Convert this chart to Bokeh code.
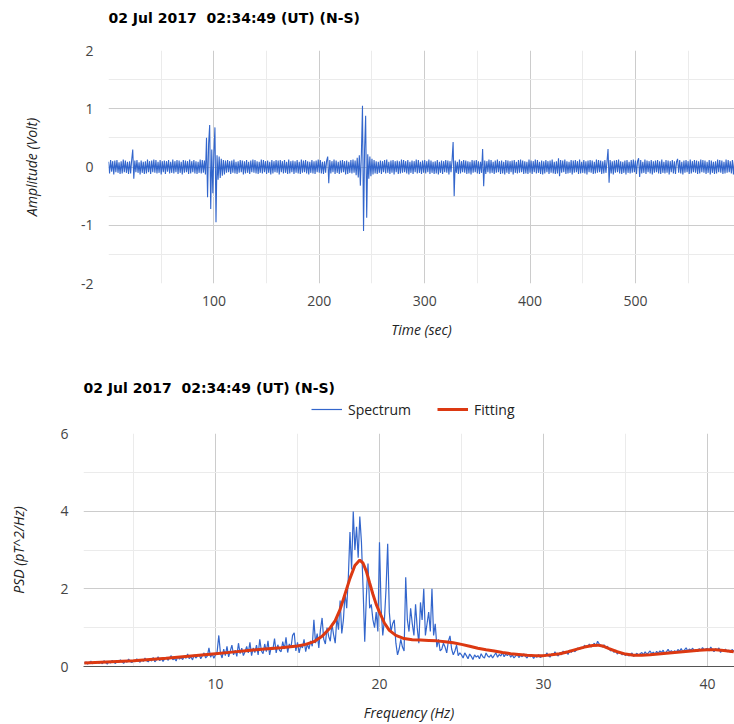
from bokeh.plotting import figure
from bokeh.models import Range1d, FixedTicker, Legend, LegendItem, Title
from bokeh.embed import file_html
from bokeh.resources import INLINE

TITLE = "02 Jul 2017\u00a0\u00a002:34:49 (UT) (N-S)"

# ---------------- data ----------------
# time series sampled every 1 s, amplitude in hundredths of a volt
time_step = 1
amp_cV = [
    9, -11, 12, -8, 10, -13, 11, -9, 12, -10, 8, -12, 10, -11, 13, -9, 11, -10, 9, -12,
    10, -11, 12, 30, -20, 11, -9, 12, -10, 8, -13, 11, -10, 9, -12, 10, -11, 13, -9, 10,
    -12, 11, -9, 13, -10, 12, -11, 9, -10, 12, -13, 10, -9, 11, -12, 10, -8, 12, -11, 9,
    -10, 13, -11, 10, -9, 12, -12, 11, -10, 9, -13, 12, -10, 11, -9, 10, -12, 13, -11, 10,
    -9, 12, -11, 10, -12, 9, -10, 13, -11, 12, -10, 11, -13, 50, -52, 40, 72, -72, 30, -45,
    25, 68, -95, 20, -22, 18, -19, 14, -15, 12, -13, 11, -10, 12, -9, 10, -12, 11, -10, 13,
    -11, 9, -12, 10, -10, 12, -9, 11, -13, 10, -11, 12, -10, 9, -12, 11, -9, 13, -10, 12,
    -11, 10, -12, 9, -10, 13, -11, 12, -9, 10, -12, 11, -10, 9, -13, 12, -11, 10, -9, 12,
    -10, 11, -13, 12, -9, 10, -11, 12, -10, 9, -12, 13, -11, 10, -9, 11, -12, 10, -10, 12,
    -11, 9, -12, 13, -10, 11, -9, 12, -11, 10, -13, 9, -10, 12, -11, 10, -12, 11, -9, 13,
    -10, 12, -11, 9, -12, 10, -10, 11, 18, -28, 12, -11, 10, -9, 13, -12, 11, -10, 9, -12,
    11, -10, 12, -9, 10, -13, 11, -12, 9, -10, 12, -11, 13, -10, 11, -14, 16, -18, 20, -32,
    25, 105, -110, 30, 88, -87, 22, -20, 18, -16, 14, -13, 12, -11, 10, -12, 9, -10, 11, -12,
    10, -9, 12, -11, 13, -10, 9, -12, 11, -10, 12, -13, 10, -9, 11, -12, 10, -11, 13, -10,
    12, -9, 10, -11, 12, -13, 9, -10, 11, -12, 10, -9, 13, -11, 12, -10, 9, -12, 11, -10,
    12, -11, 10, -9, 13, -12, 11, -10, 9, -12, 10, -11, 12, -13, 9, -10, 11, -12, 10, -9,
    12, -10, 11, -13, 10, -9, 12, 43, -50, 11, -10, 9, -12, 13, -11, 10, -9, 12, -10, 11,
    -12, 10, -11, 9, -13, 12, -10, 11, -9, 12, -11, 10, -12, 9, -10, 31, -33, 11, -12, 10,
    -9, 13, -11, 12, -10, 9, -12, 11, -10, 13, -9, 10, -12, 11, -11, 9, -13, 12, -10, 11,
    -12, 10, -9, 11, -13, 12, -10, 9, -11, 12, -10, 13, -9, 11, -12, 10, -11, 9, -12, 13,
    -10, 11, -12, 10, -9, 13, -11, 12, -10, 9, -12, 11, -13, 10, -11, 12, -9, 10, -12, 11,
    -10, 13, -11, 9, -12, 10, -11, 15, -16, 12, -10, 11, -9, 13, -12, 10, -11, 9, -10, 12,
    -13, 11, -10, 12, -9, 10, -12, 13, -11, 9, -10, 12, -11, 10, -13, 11, -9, 12, -10, 11,
    -12, 9, -11, 13, -10, 12, -9, 11, -12, 10, -11, 12, -10, 9, 31, -27, 12, -11, 10, -13,
    11, -10, 12, -9, 13, -11, 10, -12, 9, -10, 11, -13, 12, -10, 9, -11, 12, -10, 13, -9,
    11, -12, 10, 15, -17, 12, -11, 9, -10, 13, -12, 11, -9, 10, -11, 12, -13, 10, -10, 11,
    -9, 12, -11, 10, -12, 13, -10, 9, -11, 12, -10, 11, -13, 10, -9, 12, -11, 10, -12, 9,
    14, -10, 12, -11, 9, -13, 11, -10, 12, -9, 10, -12, 13, -11, 10, -9, 12, -10, 11, -12,
    10, -11, 13, -9, 12, -10, 11, -12, 9, -10, 12, -13, 11, -10, 9, -12, 10, -11, 13, -9,
    12, -10, 11, -12, 9, -11, 13, -10, 12, -9, 10, -11, 12, -13, 11, -10, 9, -12, 10, -11,
]
time_sec = [i * time_step for i in range(len(amp_cV))]
amplitude = [v / 100 for v in amp_cV]

# spectrum sampled every 0.1 Hz from 2.0 Hz, PSD in hundredths of pT^2/Hz
# (one row per 1 Hz)
freq_start = 2.0
freq_step = 0.1
psd_c = [
    8, 12, 6, 10, 14, 7, 11, 9, 13, 8,            # 2 Hz
    12, 7, 15, 10, 6, 13, 9, 16, 11, 8,           # 3
    14, 10, 17, 12, 8, 15, 11, 19, 13, 10,        # 4
    16, 12, 20, 14, 11, 18, 13, 22, 15, 12,       # 5
    19, 14, 23, 12, 17, 25, 15, 21, 13, 20,       # 6
    24, 16, 22, 28, 17, 21, 14, 26, 19, 23,       # 7
    18, 27, 21, 32, 20, 25, 17, 30, 22, 26,       # 8
    31, 20, 28, 35, 22, 27, 48, 24, 33, 21,       # 9
    30, 38, 80, 35, 22, 45, 28, 52, 25, 40,       # 10
    55, 30, 42, 26, 60, 33, 47, 28, 38, 52,       # 11
    35, 62, 28, 48, 36, 55, 30, 70, 40, 33,       # 12
    58, 38, 66, 30, 50, 44, 72, 35, 56, 42,       # 13
    38, 64, 45, 75, 36, 58, 48, 80, 87, 40,       # 14
    62, 35, 55, 48, 70, 38, 58, 45, 66, 52,       # 15
    120, 60, 85, 48, 95, 125, 70, 58, 100, 78,    # 16
    65, 110, 82, 60, 125, 95, 170, 85, 120, 190,  # 17
    150, 230, 346, 250, 399, 300, 360, 280, 386, 320,  # 18
    200, 64, 180, 265, 150, 160, 120, 100, 140, 90,    # 19
    320, 150, 80, 120, 200, 316, 140, 90, 110, 120,    # 20
    60, 30, 45, 70, 50, 40, 230, 120, 90, 150,    # 21
    110, 80, 160, 100, 60, 165, 120, 200, 80, 110,  # 22
    140, 90, 200, 80, 110, 50, 70, 40, 45, 60,    # 23
    50, 35, 65, 79, 45, 30, 40, 55, 28, 35,       # 24
    30, 22, 35, 28, 20, 32, 26, 18, 30, 24,       # 25
    28, 20, 33, 25, 22, 35, 27, 24, 30, 22,       # 26
    29, 35, 24, 31, 27, 36, 25, 32, 28, 34,       # 27
    24, 30, 22, 27, 31, 23, 29, 25, 33, 26,       # 28
    22, 30, 25, 28, 21, 27, 24, 31, 23, 26,       # 29
    30, 26, 35, 28, 24, 33, 29, 38, 31, 27,       # 30
    36, 30, 40, 33, 37, 31, 42, 36, 44, 38,       # 31
    42, 48, 44, 50, 46, 55, 49, 52, 58, 50,       # 32
    54, 60, 52, 65, 58, 55, 50, 56, 48, 52,       # 33
    45, 40, 44, 36, 42, 32, 38, 35, 30, 34,       # 34
    28, 33, 27, 31, 35, 26, 30, 34, 29, 33,       # 35
    36, 30, 38, 32, 35, 40, 33, 37, 31, 39,       # 36
    34, 40, 36, 42, 33, 38, 44, 37, 41, 35,       # 37
    41, 36, 44, 39, 46, 38, 43, 48, 40, 45,       # 38
    42, 47, 40, 44, 38, 46, 41, 49, 43, 45,       # 39
    47, 40, 50, 44, 38, 46, 42, 48, 36, 44,       # 40
    40, 45, 38, 42, 36, 44, 39, 41, 37, 40,       # 41
]
freq_hz = [round(freq_start + freq_step * i, 2) for i in range(len(psd_c))]
psd = [v / 100 for v in psd_c]

fit_freq = [2, 3, 4, 5, 6, 7, 8, 9, 10, 11, 12, 13, 14, 15, 15.5, 16, 16.5, 17, 17.3,
            17.6, 17.9, 18.2, 18.5, 18.8, 19.0, 19.2, 19.4, 19.6, 19.8, 20.0, 20.3,
            20.6, 21.0, 21.5, 22.0, 22.5, 23.0, 23.5, 24.0, 24.5, 25.0, 25.5, 26.0,
            26.5, 27.0, 27.5, 28.0, 28.5, 29.0, 29.5, 30.0, 30.5, 31.0, 31.5, 32.0,
            32.5, 33.0, 33.3, 33.6, 34.0, 34.5, 35.0, 35.5, 36.0, 36.5, 37.0, 37.5,
            38.0, 38.5, 39.0, 39.5, 40.0, 40.5, 41.0, 41.6]
fit_psd = [0.09, 0.11, 0.13, 0.15, 0.18, 0.21, 0.25, 0.29, 0.33, 0.37, 0.41, 0.45,
           0.48, 0.53, 0.57, 0.64, 0.78, 1.0, 1.18, 1.47, 1.87, 2.27, 2.6, 2.74, 2.66,
           2.45, 2.15, 1.86, 1.6, 1.4, 1.12, 0.93, 0.8, 0.72, 0.69, 0.68, 0.67, 0.66,
           0.64, 0.61, 0.57, 0.52, 0.47, 0.43, 0.40, 0.36, 0.33, 0.31, 0.29, 0.28,
           0.28, 0.30, 0.33, 0.38, 0.44, 0.50, 0.54, 0.55, 0.53, 0.46, 0.38, 0.32,
           0.29, 0.29, 0.30, 0.32, 0.34, 0.36, 0.38, 0.40, 0.42, 0.43, 0.43, 0.41, 0.38]

top_x_ticks = [100, 200, 300, 400, 500]
top_x_minor = [50, 150, 250, 350, 450, 550]
top_y_ticks = [-2, -1, 0, 1, 2]
top_y_minor = [-1.5, -0.5, 0.5, 1.5]
bot_x_ticks = [10, 20, 30, 40]
bot_x_minor = [5, 15, 25, 35]
bot_y_ticks = [0, 2, 4, 6]
bot_y_minor = [1, 3, 5]
legend_labels = ["Spectrum", "Fitting"]

BLUE = "#3366cc"
RED = "#dc3912"
LABEL_FONT = "Open Sans"
SPEC_W = 1.2
FIT_W = 3


def style_title(p, standoff):
    p.title.text = TITLE
    p.title.align = "left"
    p.title.text_font = "DejaVu Sans"
    p.title.text_font_size = "14px"
    p.title.text_font_style = "bold"
    p.title.text_color = "#000000"
    p.title.standoff = standoff


def style(p, xt, xm, yt, ym, xlabel, ylabel, ylab_standoff):
    p.outline_line_color = None
    p.background_fill_color = "white"
    p.border_fill_color = "white"
    p.xaxis.ticker = FixedTicker(ticks=xt, minor_ticks=xm)
    p.yaxis.ticker = FixedTicker(ticks=yt, minor_ticks=ym)
    p.yaxis.major_label_overrides = {t: str(t) for t in yt}
    p.xaxis.major_label_overrides = {t: str(t) for t in xt}
    for g in (p.xgrid, p.ygrid):
        g.grid_line_color = "#cccccc"
        g.minor_grid_line_color = "#ebebeb"
    for ax in (p.xaxis, p.yaxis):
        ax.axis_line_color = None
        ax.major_tick_line_color = None
        ax.minor_tick_line_color = None
        ax.major_label_text_font = LABEL_FONT
        ax.major_label_text_font_size = "14px"
        ax.major_label_text_color = "#444444"
        ax.axis_label_text_font = LABEL_FONT
        ax.axis_label_text_font_size = "14px"
        ax.axis_label_text_font_style = "italic"
        ax.axis_label_text_color = "#222222"
    p.xaxis.axis_label = xlabel
    p.yaxis.axis_label = ylabel
    p.yaxis.major_label_standoff = 9
    p.xaxis.major_label_standoff = 6
    p.xaxis.axis_label_standoff = 11
    p.yaxis.axis_label_standoff = ylab_standoff


# ---------------- top chart ----------------
p1 = figure(width=734, height=352, output_backend="svg", toolbar_location=None,
            x_range=Range1d(0, 594), y_range=Range1d(-2, 2),
            min_border_left=108, min_border_right=0, min_border_top=50,
            min_border_bottom=69)
style(p1, top_x_ticks, top_x_minor, top_y_ticks, top_y_minor,
      "Time (sec)", "Amplitude (Volt)", 37)
style_title(p1, 2)
# empty spacer between the title and the plot area
p1.add_layout(Title(text=" ", text_font_size="1px", standoff=21), "above")
p1.line(time_sec, amplitude, line_color=BLUE, line_width=1.1)

# ---------------- title + legend strip of the spectrum chart ----------------
# its renderers reuse the spectrum data but fall outside this strip's ranges,
# so only their legend keys are visible
p3 = figure(width=734, height=72, output_backend="svg", toolbar_location=None,
            x_range=Range1d(0, 1), y_range=Range1d(0, 1),
            x_axis_location=None, y_axis_location=None,
            min_border_left=83, min_border_right=0, min_border_top=46,
            min_border_bottom=0)
p3.grid.visible = False
p3.outline_line_color = None
p3.border_fill_color = "white"
p3.background_fill_color = "white"
style_title(p3, 6)
key_spec = p3.line(freq_hz, psd, line_color=BLUE, line_width=SPEC_W)
key_fit = p3.line(fit_freq, fit_psd, line_color=RED, line_width=FIT_W)
legend = Legend(items=[LegendItem(label=legend_labels[0], renderers=[key_spec]),
                       LegendItem(label=legend_labels[1], renderers=[key_fit])],
                orientation="horizontal", location=(228, 5),
                border_line_color=None, background_fill_alpha=0,
                label_text_font=LABEL_FONT, label_text_font_size="14px",
                label_text_color="#222222", glyph_width=31, glyph_height=20,
                label_height=20, label_standoff=6, spacing=26, padding=0, margin=0)
p3.add_layout(legend)

# ---------------- bottom chart ----------------
p2 = figure(width=734, height=300, output_backend="svg", toolbar_location=None,
            x_range=Range1d(1.95, 41.65), y_range=Range1d(0, 6),
            min_border_left=83, min_border_right=0, min_border_top=9,
            min_border_bottom=58)
style(p2, bot_x_ticks, bot_x_minor, bot_y_ticks, bot_y_minor,
      "Frequency (Hz)", "PSD (pT^2/Hz)", 29)
p2.xaxis.axis_line_color = "#555555"
p2.line(freq_hz, psd, line_color=BLUE, line_width=SPEC_W)
p2.line(fit_freq, fit_psd, line_color=RED, line_width=FIT_W)

open("out.html", "w").write(file_html([p1, p3, p2], INLINE))
